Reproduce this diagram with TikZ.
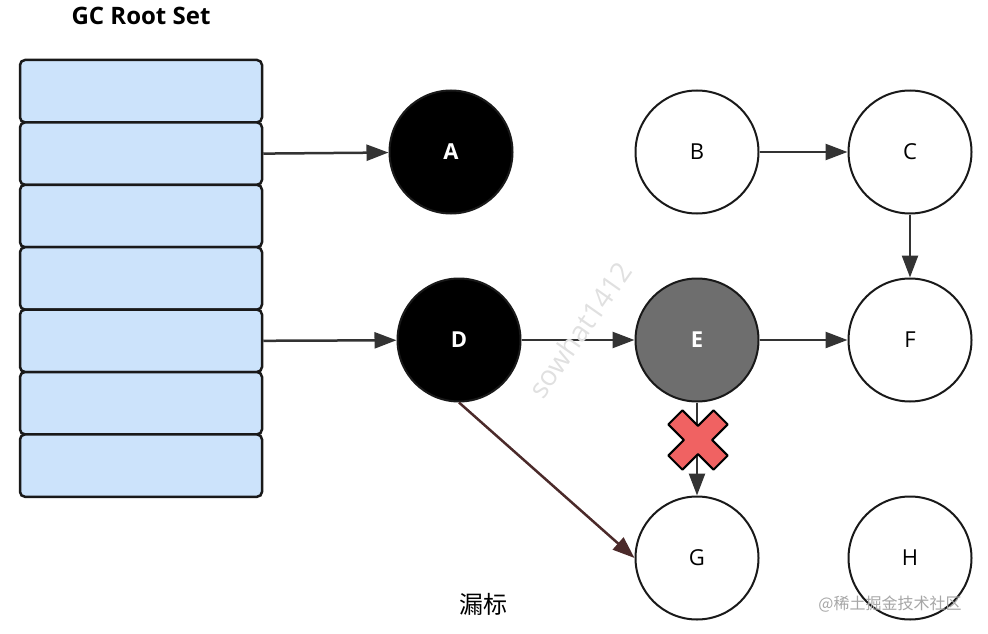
\documentclass[tikz,border=0pt]{standalone}
\usepackage{fontspec}
\setmainfont{Open Sans}
\newfontfamily\cjk{Noto Sans CJK SC}
\usetikzlibrary{arrows.meta}
\definecolor{rootblue}{HTML}{CCE3FB}
\definecolor{edgegray}{HTML}{333333}
\definecolor{greyobj}{HTML}{6E6E6E}
\definecolor{crossred}{HTML}{F06262}
\definecolor{missred}{HTML}{4B2A2A}
\begin{document}
\begin{tikzpicture}[x=1pt,y=-1pt,
    rootbox/.style={draw=black!90,fill=rootblue,line width=2.5pt,rounded corners=5pt,
      minimum width=242pt,minimum height=62.4pt,inner sep=0pt},
    obj/.style={circle,draw=black!90,line width=2pt,minimum size=123pt,inner sep=0pt,
      font=\fontsize{22}{24}\selectfont},
    blackobj/.style={obj,fill=black,text=white,font=\bfseries\fontsize{22}{24}\selectfont},
    greyobj/.style={obj,fill=greyobj,text=white,font=\bfseries\fontsize{22}{24}\selectfont},
    whiteobj/.style={obj,fill=white},
    ref/.style={draw=edgegray,line width=2.5pt,-{Triangle[length=22pt,width=16pt]}}]
  \useasboundingbox (0,0) rectangle (988,634);
  \node[font=\bfseries\fontsize{24}{26}\selectfont] (title) at (141,16) {GC Root Set};
  % root set stack
  \foreach \i in {0,...,6}{
    \node[rootbox] (r\i) at (141,91.2+62.4*\i) {};
  }
  % objects
  \foreach \n/\x/\y/\s in {
    A/451/152/blackobj, B/697/152/whiteobj, C/910/152/whiteobj,
    D/459/340/blackobj, E/697/340/greyobj, F/910/340/whiteobj,
    G/697/558/whiteobj, H/910/558/whiteobj}{
    \node[\s] (\n) at (\x,\y) {\n};
  }
  % references
  \draw[ref] (r1.east) -- (A);
  \draw[ref] (r4.east) -- (D);
  \draw[ref] (B) -- (C);
  \draw[ref] (C) -- (F);
  \draw[ref] (D) -- (E);
  \draw[ref] (E) -- (F);
  \draw[ref] (E) -- (G);
  \draw[ref,draw=missred] (D.south) -- (G.west);
  % cut reference
  \coordinate (cut) at (698,440);
  \begin{scope}[shift={(cut)},rotate=45]
    \draw[fill=crossred,line width=2pt,line join=round]
      (-10,-32) -- (10,-32) -- (10,-10) -- (32,-10) -- (32,10) -- (10,10) --
      (10,32) -- (-10,32) -- (-10,10) -- (-32,10) -- (-32,-10) -- (-10,-10) -- cycle;
  \end{scope}
  \node[font=\cjk\fontsize{24}{26}\selectfont] (caption) at (483,604) {漏标};
  % watermarks
  \node[text=black!12,rotate=55,font=\fontsize{28}{30}\selectfont] (mark) at (580,330) {sowhat1412};
  \node[text=black!35,font=\cjk\fontsize{16}{18}\selectfont] (site) at (890,604) {@稀土掘金技术社区};
\end{tikzpicture}
\end{document}
